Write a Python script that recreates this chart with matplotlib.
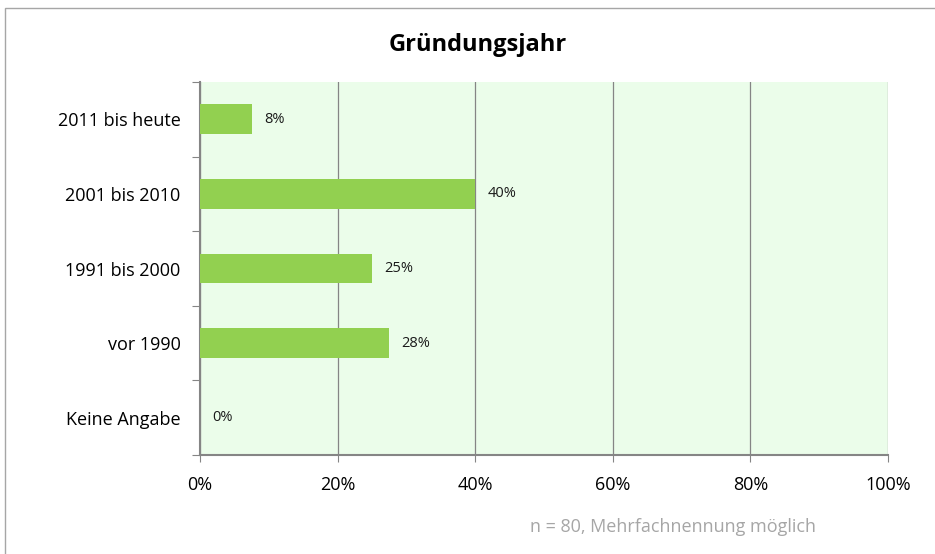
import matplotlib

matplotlib.use("Agg")
import matplotlib.pyplot as plt
from matplotlib.patches import Rectangle

# data (n = 80)
categories = ["2011 bis heute", "2001 bis 2010", "1991 bis 2000", "vor 1990", "Keine Angabe"]
shares = [7.5, 40.0, 25.0, 27.5, 0.0]
value_labels = ["8%", "40%", "25%", "28%", "0%"]
x_ticks = [0, 20, 40, 60, 80, 100]

plt.rcParams["font.family"] = ["Open Sans", "DejaVu Sans"]

fig = plt.figure(figsize=(9.35, 5.54), dpi=100)
ax = fig.add_axes([200 / 935, 1 - 455 / 554, 688 / 935, 373 / 554])

# outer chart frame
fig.patches.append(Rectangle((5 / 935, -0.01), 1.0, 1 - 8 / 554 + 0.01, transform=fig.transFigure,
                             fill=False, edgecolor="#a6a6a6", linewidth=1.0))

ypos = list(range(len(categories)))
ax.barh(ypos, shares, height=0.4, color="#92d050", zorder=3)
for y, v, lab in zip(ypos, shares, value_labels):
    ax.text(v + 1.8, y, lab, va="center", ha="left", fontsize=10.5, color="#1a1a1a", zorder=4)

ax.set_xlim(0, 100)
ax.set_ylim(len(categories) - 0.5, -0.5)
ax.set_facecolor("#ebfdea")
ax.set_xticks(x_ticks)
ax.set_xticklabels([f"{t}%" for t in x_ticks], fontsize=13)
ax.xaxis.grid(True, color="#858585", linewidth=0.9, zorder=1)
ax.tick_params(axis="x", length=5, color="#858585", pad=10)

# category labels centered, tick marks at the boundaries
ax.set_yticks([i - 0.5 for i in range(len(categories) + 1)])
ax.set_yticklabels([])
ax.set_yticks(ypos, minor=True)
ax.set_yticklabels(categories, minor=True, fontsize=13)
ax.tick_params(axis="y", which="major", length=6, color="#858585")
ax.tick_params(axis="y", which="minor", length=0, pad=14)

for side in ["top", "right"]:
    ax.spines[side].set_visible(False)
for side in ["left", "bottom"]:
    ax.spines[side].set_color("#858585")
    ax.spines[side].set_linewidth(1.5)

fig.text(478 / 935, 1 - 45 / 554, "Gründungsjahr", ha="center", va="center",
         fontsize=17, fontweight="bold")
fig.text(673 / 935, 1 - 527 / 554, "n = 80, Mehrfachnennung möglich", ha="center", va="center",
         fontsize=13, color="#a6a6a6")

fig.savefig("out.png", dpi=100)
